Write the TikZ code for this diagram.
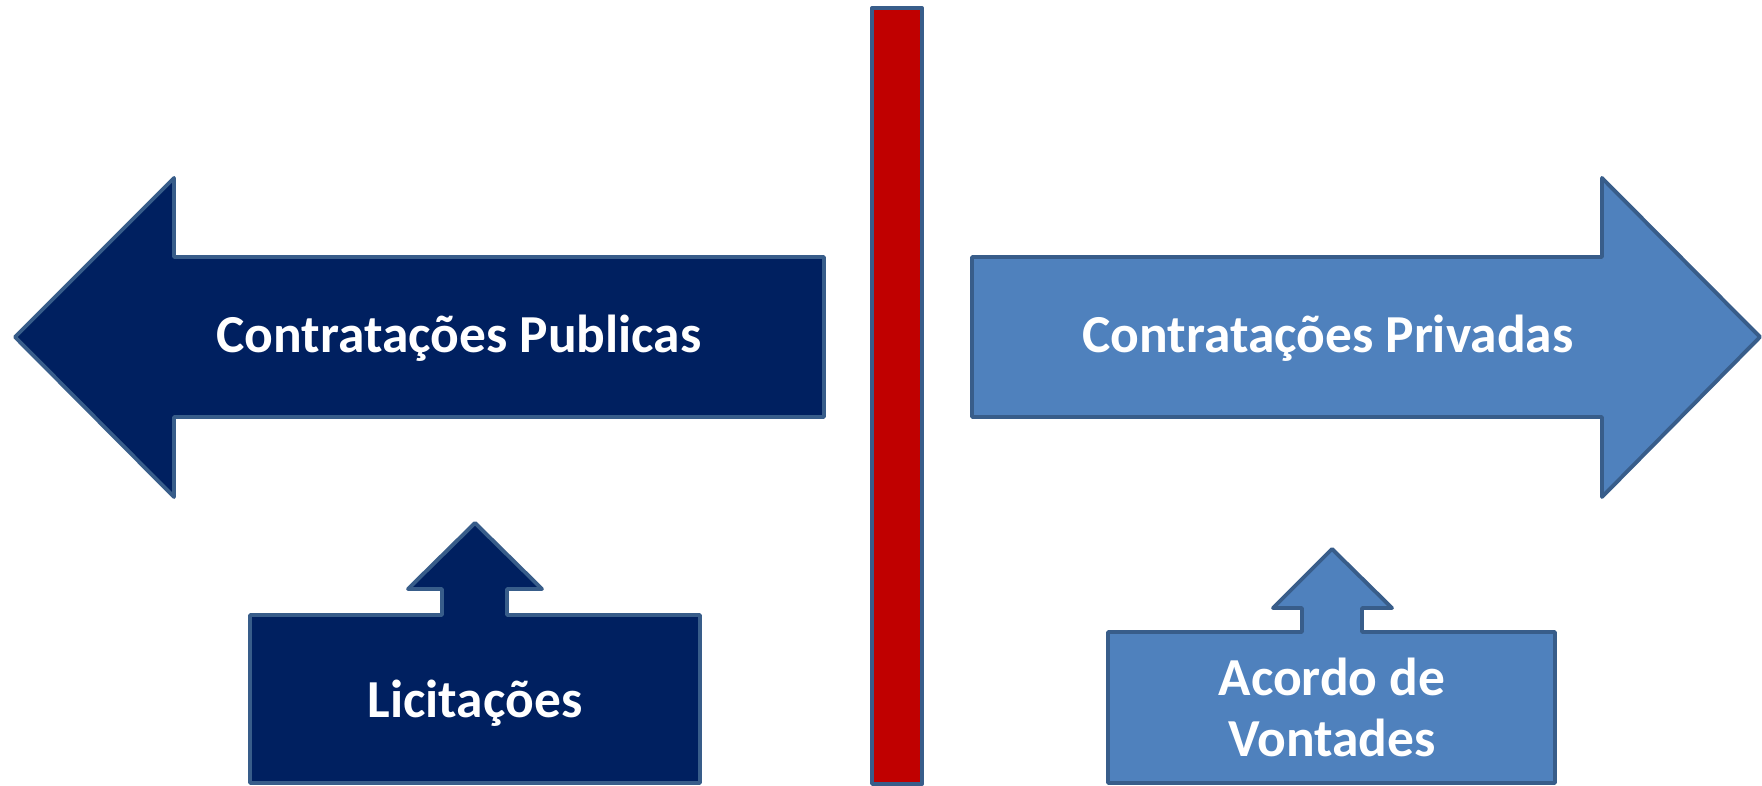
\documentclass[tikz,border=0pt]{standalone}
\usepackage{fontspec}
\setmainfont{Carlito}
\definecolor{darkblue}{HTML}{002060}
\definecolor{lightblue}{HTML}{4F81BD}
\definecolor{outline}{HTML}{385D8A}
\definecolor{barred}{HTML}{C00000}

\begin{document}
\begin{tikzpicture}[x=0.01cm,y=-0.01cm,
	boxline/.style={draw=outline,line width=1.1pt,line join=round},
	boxtext/.style={text=white,font=\bfseries\fontsize{15.2}{17.6}\selectfont,align=center,anchor=base,inner sep=0pt}]
\useasboundingbox (0,0) rectangle (1762,786);
\clip (0,0) rectangle (1762,786);
% big arrows
\draw[boxline,fill=darkblue] (15,337) -- (174,178) -- (174,257) -- (824,257) -- (824,417) -- (174,417) -- (174,497) -- cycle;
\draw[boxline,fill=lightblue] (1760,337) -- (1602,178) -- (1602,257) -- (972,257) -- (972,417) -- (1602,417) -- (1602,497) -- cycle;
% divider
\draw[boxline,fill=barred] (872,8) rectangle (922,784);
% small boxes
\draw[boxline,fill=darkblue] (250,783) -- (250,615) -- (442,615) -- (442,589) -- (408,589) -- (475,523) -- (542,589) -- (507,589) -- (507,615) -- (700,615) -- (700,783) -- cycle;
\draw[boxline,fill=lightblue] (1108,783) -- (1108,632) -- (1302,632) -- (1302,608) -- (1273,608) -- (1332,549) -- (1392,608) -- (1362,608) -- (1362,632) -- (1555,632) -- (1555,783) -- cycle;
% texts
\node[boxtext] (publicas) at (459,353) {Contratações Publicas};
\node[boxtext] (privadas) at (1328,353) {Contratações Privadas};
\node[boxtext] (licitacoes) at (475,718) {Licitações};
\node[boxtext] (acordo) at (1332,757) {Acordo de\\Vontades};
\end{tikzpicture}
\end{document}
